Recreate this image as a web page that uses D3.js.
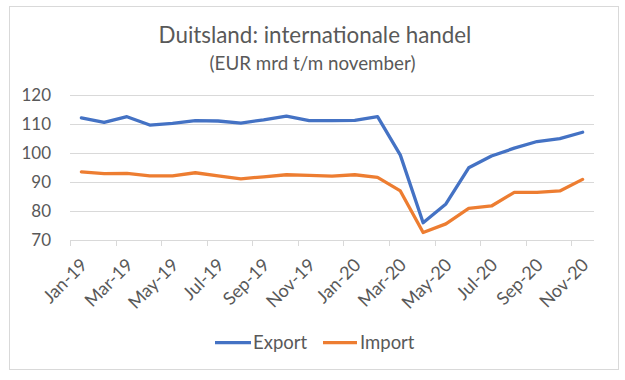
<!DOCTYPE html>
<html><head><meta charset="utf-8">
<script src="https://cdn.jsdelivr.net/npm/d3@7"></script>
<style>
html,body{margin:0;padding:0;background:#fff;}
svg text{font-family:Lato,"Open Sans",sans-serif;fill:#595959;}
</style></head>
<body><svg id="c" width="625" height="380"></svg>
<script>
const months = ["Jan-19","Feb-19","Mar-19","Apr-19","May-19","Jun-19","Jul-19","Aug-19","Sep-19","Oct-19","Nov-19","Dec-19",
                "Jan-20","Feb-20","Mar-20","Apr-20","May-20","Jun-20","Jul-20","Aug-20","Sep-20","Oct-20","Nov-20"];
const exportValues = [112.1,110.5,112.5,109.6,110.2,111.1,111.0,110.3,111.4,112.7,111.1,111.1,111.2,112.5,99.2,75.8,82.3,94.8,98.9,101.6,103.9,104.9,107.1];
const importValues = [93.4,92.8,92.9,92.0,92.0,93.1,92.0,91.0,91.7,92.4,92.2,91.9,92.4,91.5,86.8,72.4,75.4,80.8,81.6,86.3,86.3,86.8,90.8];
const yTicks = [70,80,90,100,110,120];
const seriesNames = ["Export","Import"];
const titleText = "Duitsland: internationale handel";
const subtitleText = "(EUR mrd t/m november)";

const colors = {Export:"#4472C4", Import:"#ED7D31"};
const svg = d3.select("#c");

svg.append("rect").attr("x",9.5).attr("y",6.5).attr("width",609).attr("height",363)
  .attr("fill","#fff").attr("stroke","#d9d9d9").attr("stroke-width",1);

function fit(sel, target){
  sel.attr("font-size",20);
  const w = sel.node().getComputedTextLength();
  sel.attr("font-size", (20*target/w).toFixed(2));
}

const t = svg.append("text").attr("x",315).attr("y",42.7).attr("text-anchor","middle").text(titleText);
fit(t, 313);
const st = svg.append("text").attr("x",312.5).attr("y",70).attr("text-anchor","middle").text(subtitleText);
fit(st, 206);

const x = d3.scaleBand().domain(months).range([70,594]).padding(0);
const y = d3.scaleLinear().domain([70,120]).range([239.5,95]);

// gridlines
svg.append("g").selectAll("line").data(yTicks.filter(d=>d>70)).join("line")
  .attr("x1",70).attr("x2",594).attr("y1",d=>Math.round(y(d))+0.5).attr("y2",d=>Math.round(y(d))+0.5)
  .attr("stroke","#d9d9d9").attr("stroke-width",1);
// axis line
const axY = Math.round(y(70))+0.5;
svg.append("line").attr("x1",70).attr("x2",594).attr("y1",axY).attr("y2",axY).attr("stroke","#d9d9d9");
// ticks at category boundaries every 2
const tickCats = months.filter((d,i)=>i%2===0);
svg.append("g").selectAll("line").data(tickCats).join("line")
  .attr("x1",d=>Math.round(x(d))+0.5).attr("x2",d=>Math.round(x(d))+0.5)
  .attr("y1",axY).attr("y2",axY+5.5).attr("stroke","#d9d9d9");

// y labels
svg.append("g").selectAll("text").data(yTicks).join("text")
  .attr("x",51).attr("y",d=>y(d)).attr("dy","0.36em").attr("text-anchor","end")
  .attr("font-size",17).text(d=>d);

// x labels
svg.append("g").selectAll("text").data(tickCats).join("text")
  .attr("transform",d=>`translate(${x(d)+x.bandwidth()/2+2.5},${axY+21}) rotate(-45)`)
  .attr("text-anchor","end").attr("dy","0.36em").attr("font-size",18).text(d=>d);

// lines
const line = d3.line().x((d,i)=>x(months[i])+x.bandwidth()/2).y(d=>y(d));
[[seriesNames[0],exportValues],[seriesNames[1],importValues]].forEach(([n,v])=>{
  svg.append("path").attr("d",line(v)).attr("fill","none").attr("stroke",colors[n])
    .attr("stroke-width",3.3).attr("stroke-linejoin","round").attr("stroke-linecap","round");
});

// legend
const leg = [{n:seriesNames[0],x1:215,x2:251,tx:253},{n:seriesNames[1],x1:323,x2:357,tx:360}];
leg.forEach(l=>{
  svg.append("line").attr("x1",l.x1).attr("x2",l.x2).attr("y1",342.7).attr("y2",342.7)
    .attr("stroke",colors[l.n]).attr("stroke-width",3.3);
  svg.append("text").attr("x",l.tx).attr("y",348.5).attr("font-size",18.5).text(l.n);
});
</script></body></html>
